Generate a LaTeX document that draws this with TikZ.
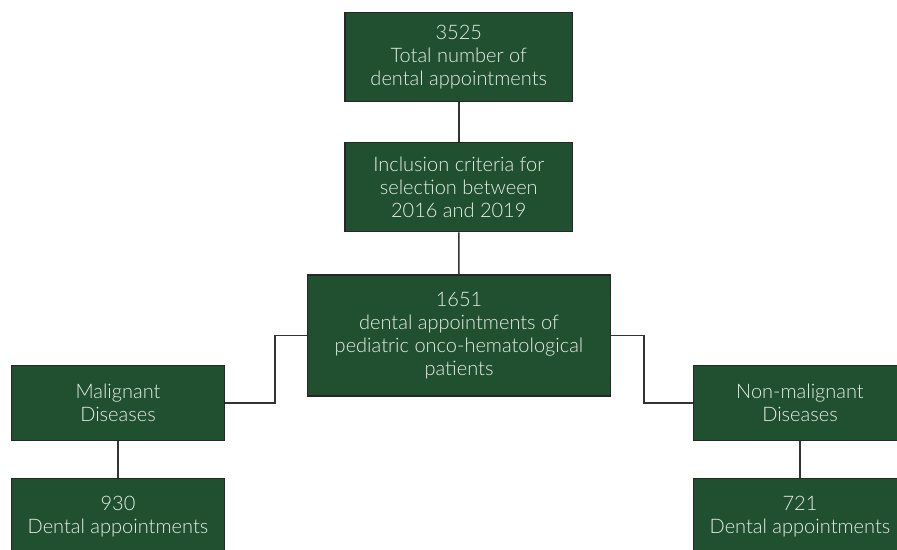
\documentclass[tikz,border=0pt]{standalone}
\usepackage{fontspec}
\setmainfont{Lato Light}
\definecolor{boxgreen}{HTML}{20502F}
\definecolor{txtwhite}{HTML}{E8EEE9}
\definecolor{linegray}{HTML}{333333}
\begin{document}
\begin{tikzpicture}[x=1pt,y=-1pt,
  gbox/.style={draw=black!85, line width=1.2pt, fill=boxgreen, text=txtwhite,
    align=center, inner sep=0pt, font=\fontsize{20}{23}\selectfont},
  conn/.style={draw=linegray, line width=1.5pt}]
\useasboundingbox (0,0) rectangle (897,549);
\clip (0,0) rectangle (897,549);
\node[gbox, minimum width=227.5pt, minimum height=89.5pt] (b1) at (458.75,57) {3525\\Total number of\\dental appointments};
\node[gbox, minimum width=227.5pt, minimum height=89.5pt] (b2) at (458.75,187) {Inclusion criteria for\\selection between\\2016 and 2019};
\node[gbox, minimum width=303.4pt, minimum height=121pt] (b3) at (459,335.5) {1651\\dental appointments of\\pediatric onco-hematological\\patients};
\node[gbox, minimum width=212.3pt, minimum height=75.7pt] (mal) at (118,403) {Malignant\\Diseases};
\node[gbox, minimum width=212.3pt, minimum height=75.7pt] (m930) at (118,516.2) {930\\Dental appointments};
\node[gbox, minimum width=212.3pt, minimum height=75.7pt] (non) at (800,403) {Non-malignant\\Diseases};
\node[gbox, minimum width=212.3pt, minimum height=75.7pt] (n721) at (800,516.2) {721\\Dental appointments};
\coordinate (lk) at (275,0);
\coordinate (rk) at (644,0);
\draw[conn] (b1.south) -- (b2.north);
\draw[conn] (b2.south) -- (b3.north);
\draw[conn] (b3.west) -| (lk |- mal.east) -- (mal.east);
\draw[conn] (b3.east) -| (rk |- non.west) -- (non.west);
\draw[conn] (mal.south) -- (m930.north);
\draw[conn] (non.south) -- (n721.north);
\end{tikzpicture}
\end{document}
